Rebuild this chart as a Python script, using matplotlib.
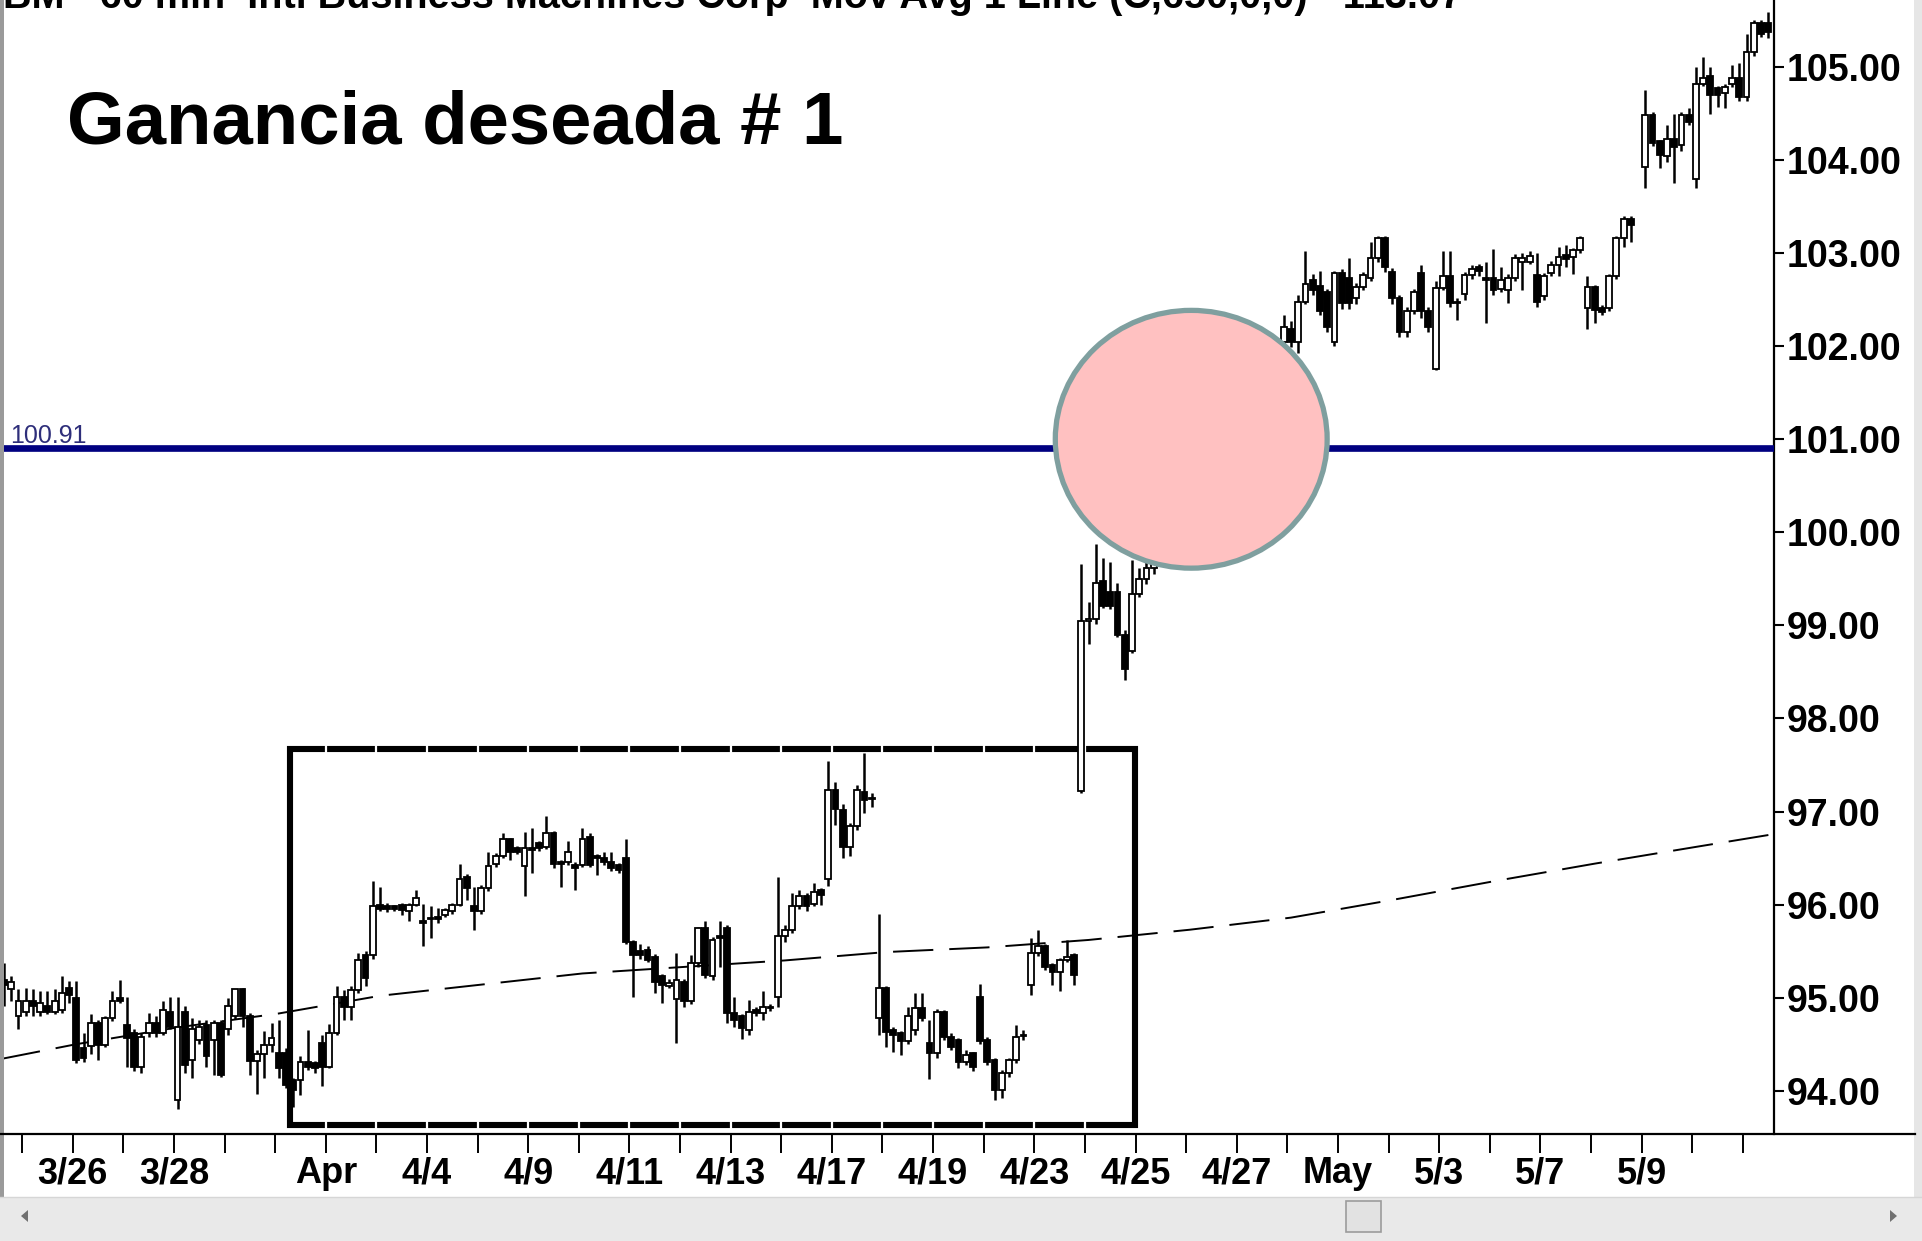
import numpy as np
import matplotlib.pyplot as plt
from matplotlib.patches import Ellipse, Rectangle, Polygon

plt.rcParams['font.family'] = ['Liberation Sans', 'DejaVu Sans']
plt.rcParams['lines.scale_dashes'] = False

# ---------------- data: IBM 60-min bars (one row = one trading day) ----------------
# first two values are the tail of 3/22, then 3/23 ... 5/11 (7 bars per day)
opens = [
    95.19, 95.09,
    94.80, 94.85, 94.96, 94.85, 94.91, 94.85, 94.87,   # 3/23
    95.10, 95.00, 94.46, 94.48, 94.73, 94.49, 94.78,   # 3/26
    95.00, 94.71, 94.62, 94.26, 94.62, 94.73, 94.62,   # 3/27
    94.85, 93.90, 94.85, 94.33, 94.55, 94.71, 94.55,   # 3/28
    94.73, 94.66, 94.80, 95.09, 94.80, 94.32, 94.39,   # 3/29
    94.49, 94.40, 94.40, 94.12, 94.12, 94.31, 94.30,   # 3/30
    94.51, 94.26, 94.62, 95.01, 94.90, 95.08, 95.46,   # 4/2
    95.46, 96.00, 95.98, 95.98, 96.00, 95.93, 96.00,   # 4/3
    95.82, 95.85, 95.87, 95.89, 95.93, 96.00, 96.30,   # 4/4
    95.98, 95.93, 96.18, 96.44, 96.52, 96.70, 96.61,   # 4/5
    96.41, 96.61, 96.66, 96.62, 96.77, 96.46, 96.46,   # 4/9
    96.43, 96.43, 96.73, 96.52, 96.50, 96.46, 96.43,   # 4/10
    96.50, 95.60, 95.50, 95.51, 95.44, 95.23, 95.12,   # 4/11
    94.99, 95.17, 94.96, 95.37, 95.75, 95.23, 95.66,   # 4/12
    95.75, 94.83, 94.80, 94.65, 94.87, 94.83, 94.90,   # 4/13
    95.01, 95.66, 95.73, 95.98, 96.09, 96.01, 96.16,   # 4/16
    96.28, 97.23, 97.02, 96.62, 96.84, 97.21, 97.14,   # 4/17
    94.78, 95.10, 94.65, 94.62, 94.53, 94.65, 94.89,   # 4/18
    94.51, 94.40, 94.85, 94.58, 94.55, 94.31, 94.40,   # 4/19
    95.01, 94.55, 94.33, 94.01, 94.19, 94.33, 94.59,   # 4/20
    95.14, 95.48, 95.55, 95.35, 95.28, 95.41, 95.46,   # 4/23
    97.22, 99.05, 99.07, 99.48, 99.36, 99.36, 98.90,   # 4/24
    98.72, 99.34, 99.50, 99.62, 99.85, 99.78, 100.05,  # 4/25
    100.20, 100.12, 100.35, 100.50, 100.44, 100.70, 100.86,  # 4/26
    101.05, 100.98, 101.25, 101.40, 101.55, 101.48, 101.75,  # 4/27
    102.05, 102.19, 102.05, 102.48, 102.71, 102.65, 102.58,  # 4/30
    102.05, 102.79, 102.73, 102.52, 102.64, 102.73, 102.95,  # 5/1
    103.16, 102.80, 102.52, 102.15, 102.38, 102.79, 102.38,  # 5/2
    101.76, 102.63, 102.75, 102.48, 102.56, 102.77, 102.85,  # 5/3
    102.73, 102.73, 102.62, 102.60, 102.73, 102.91, 102.91,  # 5/4
    102.77, 102.54, 102.79, 102.87, 102.98, 102.96, 103.03,  # 5/7
    102.41, 102.64, 102.41, 102.41, 102.75, 103.16, 103.37,  # 5/8
    np.nan, 103.93, 104.48, 104.20, 104.04, 104.23, 104.16,  # 5/9
    104.48, 103.80, 104.82, 104.90, 104.77, 104.72, 104.82,  # 5/10
    104.88, 104.68, 105.16, 105.47, 105.47,                  # 5/11
]
highs = [
    95.37, 95.23,
    95.09, 95.10, 95.09, 95.07, 95.07, 95.09, 95.23,
    95.18, 95.18, 94.62, 94.82, 94.76, 94.80, 95.07,
    95.19, 95.01, 94.66, 94.62, 94.83, 94.80, 94.96,
    95.01, 95.01, 94.91, 94.78, 94.76, 94.76, 94.76,
    94.76, 95.00, 95.09, 95.10, 94.84, 94.44, 94.64,
    94.73, 94.76, 94.46, 94.14, 94.37, 94.65, 94.32,
    94.60, 94.72, 95.12, 95.08, 95.12, 95.48, 95.50,
    96.25, 96.19, 96.02, 96.00, 96.02, 96.02, 96.16,
    96.01, 95.98, 95.96, 95.96, 96.02, 96.44, 96.33,
    96.19, 96.21, 96.57, 96.55, 96.77, 96.72, 96.63,
    96.78, 96.82, 96.68, 96.95, 96.79, 96.48, 96.68,
    96.46, 96.82, 96.77, 96.54, 96.57, 96.57, 96.45,
    96.71, 95.62, 95.58, 95.55, 95.47, 95.25, 95.20,
    95.48, 95.20, 95.46, 95.76, 95.82, 95.65, 95.82,
    95.78, 95.01, 94.82, 94.98, 94.90, 95.07, 94.93,
    96.30, 95.78, 96.12, 96.16, 96.12, 96.23, 96.18,
    97.54, 97.32, 97.08, 96.88, 97.29, 97.63, 97.20,
    95.90, 95.12, 94.68, 94.64, 94.90, 95.05, 95.05,
    94.76, 94.88, 94.87, 94.62, 94.57, 94.44, 94.42,
    95.15, 94.58, 94.35, 94.22, 94.35, 94.71, 94.65,
    95.64, 95.73, 95.58, 95.37, 95.43, 95.62, 95.48,
    99.66, 99.25, 99.87, 99.72, 99.68, 99.46, 98.95,
    99.70, 99.62, 99.75, 99.95, 100.00, 100.12, 100.30,
    100.28, 100.42, 100.60, 100.58, 100.78, 100.95, 101.12,
    101.15, 101.32, 101.50, 101.62, 101.66, 101.82, 102.00,
    102.34, 102.27, 102.55, 103.02, 102.78, 102.81, 102.62,
    102.81, 102.83, 102.95, 102.68, 102.80, 103.12, 103.18,
    103.18, 102.84, 102.55, 102.42, 102.62, 102.87, 102.42,
    102.70, 103.02, 103.02, 102.52, 102.80, 102.87, 102.88,
    102.91, 103.04, 102.85, 102.78, 102.99, 103.00, 103.02,
    103.00, 102.79, 102.92, 103.07, 103.09, 103.06, 103.18,
    102.75, 102.66, 102.44, 102.78, 103.18, 103.40, 103.40,
    np.nan, 104.75, 104.52, 104.22, 104.38, 104.50, 104.52,
    104.56, 105.00, 105.11, 105.00, 104.80, 104.82, 105.02,
    105.04, 105.36, 105.50, 105.50, 105.59,
]
lows = [
    94.91, 94.96,
    94.66, 94.80, 94.80, 94.80, 94.82, 94.82, 94.83,
    94.94, 94.30, 94.31, 94.39, 94.33, 94.47, 94.75,
    94.94, 94.26, 94.21, 94.19, 94.58, 94.58, 94.60,
    94.66, 93.80, 94.19, 94.14, 94.50, 94.26, 94.17,
    94.15, 94.60, 94.77, 94.69, 94.17, 93.96, 94.14,
    94.42, 94.14, 94.03, 93.83, 93.95, 94.22, 94.19,
    94.05, 94.24, 94.60, 94.76, 94.76, 95.05, 95.12,
    95.42, 95.93, 95.92, 95.93, 95.89, 95.82, 95.98,
    95.55, 95.64, 95.80, 95.87, 95.90, 95.98, 96.05,
    95.73, 95.90, 96.15, 96.40, 96.50, 96.48, 96.54,
    96.09, 96.34, 96.58, 96.60, 96.39, 96.19, 96.43,
    96.16, 96.40, 96.40, 96.32, 96.43, 96.36, 96.34,
    95.58, 95.01, 95.42, 95.38, 95.05, 94.94, 95.10,
    94.51, 94.90, 94.93, 95.33, 95.21, 95.19, 95.33,
    94.73, 94.69, 94.56, 94.60, 94.80, 94.76, 94.86,
    94.90, 95.60, 95.70, 95.95, 95.93, 95.98, 96.00,
    96.20, 96.86, 96.50, 96.52, 96.80, 96.98, 97.05,
    94.60, 94.47, 94.42, 94.38, 94.50, 94.60, 94.75,
    94.13, 94.35, 94.55, 94.44, 94.24, 94.28, 94.21,
    94.50, 94.28, 93.90, 93.92, 94.15, 94.30, 94.55,
    95.03, 95.45, 95.30, 95.14, 95.07, 95.38, 95.14,
    97.20, 98.80, 99.01, 99.19, 99.18, 98.88, 98.41,
    98.70, 99.30, 99.45, 99.55, 99.70, 99.72, 99.98,
    100.05, 100.08, 100.30, 100.38, 100.40, 100.62, 100.80,
    100.90, 100.92, 101.18, 101.35, 101.40, 101.44, 101.70,
    102.00, 101.99, 101.93, 102.45, 102.55, 102.33, 102.15,
    102.00, 102.40, 102.40, 102.45, 102.60, 102.70, 102.90,
    102.80, 102.45, 102.10, 102.10, 102.35, 102.30, 102.15,
    101.74, 102.60, 102.42, 102.28, 102.50, 102.72, 102.75,
    102.25, 102.55, 102.58, 102.46, 102.70, 102.60, 102.88,
    102.42, 102.50, 102.75, 102.75, 102.85, 102.78, 103.00,
    102.19, 102.25, 102.33, 102.38, 102.72, 103.07, 103.12,
    np.nan, 103.70, 104.15, 103.91, 103.98, 103.75, 104.10,
    104.38, 103.70, 104.80, 104.50, 104.57, 104.56, 104.78,
    104.64, 104.64, 105.12, 105.32, 105.31,
]
closes = [
    95.14, 95.17,
    94.96, 94.96, 94.91, 94.94, 94.85, 94.96, 95.05,
    95.03, 94.33, 94.35, 94.73, 94.49, 94.78, 94.96,
    94.96, 94.57, 94.26, 94.58, 94.73, 94.62, 94.87,
    94.69, 94.69, 94.28, 94.66, 94.69, 94.37, 94.73,
    94.17, 94.91, 95.09, 94.80, 94.32, 94.39, 94.49,
    94.57, 94.24, 94.06, 94.01, 94.31, 94.26, 94.24,
    94.26, 94.62, 95.01, 94.90, 95.08, 95.40, 95.21,
    95.99, 95.95, 95.95, 95.95, 95.94, 96.00, 96.07,
    95.80, 95.84, 95.85, 95.94, 96.00, 96.28, 96.18,
    95.93, 96.18, 96.41, 96.52, 96.70, 96.57, 96.57,
    96.61, 96.59, 96.61, 96.77, 96.44, 96.44, 96.57,
    96.39, 96.70, 96.43, 96.50, 96.46, 96.39, 96.37,
    95.60, 95.46, 95.46, 95.41, 95.17, 95.14, 95.16,
    95.19, 94.96, 95.37, 95.75, 95.24, 95.62, 95.64,
    94.83, 94.76, 94.67, 94.85, 94.83, 94.90, 94.89,
    95.66, 95.73, 95.98, 96.09, 95.98, 96.14, 96.10,
    97.23, 97.03, 96.62, 96.84, 97.23, 97.12, 97.13,
    95.10, 94.63, 94.60, 94.53, 94.80, 94.89, 94.78,
    94.40, 94.85, 94.58, 94.47, 94.31, 94.38, 94.26,
    94.53, 94.31, 94.01, 94.19, 94.33, 94.58, 94.60,
    95.48, 95.55, 95.33, 95.28, 95.41, 95.44, 95.24,
    99.05, 99.07, 99.46, 99.21, 99.21, 98.90, 98.53,
    99.34, 99.50, 99.62, 99.85, 99.78, 100.05, 100.20,
    100.12, 100.35, 100.50, 100.44, 100.70, 100.86, 101.05,
    100.98, 101.25, 101.40, 101.55, 101.48, 101.75, 101.95,
    102.21, 102.05, 102.48, 102.67, 102.60, 102.38, 102.21,
    102.79, 102.46, 102.46, 102.64, 102.77, 102.95, 103.16,
    102.85, 102.52, 102.15, 102.38, 102.58, 102.38, 102.21,
    102.63, 102.75, 102.46, 102.46, 102.77, 102.83, 102.81,
    102.71, 102.60, 102.71, 102.73, 102.95, 102.95, 102.97,
    102.48, 102.75, 102.87, 102.96, 102.94, 103.03, 103.16,
    102.64, 102.39, 102.37, 102.75, 103.16, 103.37, 103.30,
    np.nan, 104.48, 104.18, 104.05, 104.23, 104.14, 104.48,
    104.41, 104.82, 104.88, 104.70, 104.70, 104.79, 104.88,
    104.68, 105.16, 105.47, 105.36, 105.38,
]

# moving average (C,650): bar slot -> price
ma_slot = [-3.5, 7, 21, 35, 49, 63, 77, 91, 105, 119, 133, 147, 161, 175, 189, 203, 217, 231, 242]
ma_price = [94.34, 94.50, 94.68, 94.83, 95.02, 95.14, 95.26, 95.33, 95.40, 95.49,
            95.54, 95.62, 95.73, 95.86, 96.05, 96.25, 96.44, 96.62, 96.76]

target_price = 100.91

day_labels = {1: '3/26', 3: '3/28', 6: 'Apr', 8: '4/4', 10: '4/9', 12: '4/11',
              14: '4/13', 16: '4/17', 18: '4/19', 20: '4/23', 22: '4/25',
              24: '4/27', 26: 'May', 28: '5/3', 30: '5/7', 32: '5/9'}
n_days = 35

# consolidation box (bar slots / prices) and highlight circle
box_start, box_end = 36.5, 153.4
box_low, box_high = 93.63, 97.67
circle_slot, circle_price = 161.2, 101.0
circle_w, circle_h = 37.6, 2.77

title = 'Ganancia deseada # 1'
header = 'IBM - 60 min  Intl Business Machines Corp  Mov Avg 1 Line (C,650,0,0) - 113.07'

# ---------------- figure ----------------
W, H = 1922, 1241
fig = plt.figure(figsize=(W / 100, H / 100), dpi=100)
ax = fig.add_axes([4 / W, (H - 1134) / H, 1770 / W, 1134 / H])

o = np.array(opens, float)
h = np.array(highs, float)
l = np.array(lows, float)
c = np.array(closes, float)
x = np.arange(len(o)) - 3
ok = ~np.isnan(o)
up = c >= o

ax.vlines(x[ok], l[ok], h[ok], color='black', lw=1.8, zorder=3)
body_h = np.maximum(np.abs(c - o), 0.012)
ax.bar(x[ok], body_h[ok], bottom=np.minimum(o, c)[ok], width=0.8,
       color=np.where(up, 'white', 'black')[ok], edgecolor='black', lw=1.3, zorder=4)

# moving average
ax.plot(ma_slot, ma_price, color='black', lw=1.4, dashes=(29, 11.5), zorder=2)

# box
ax.add_patch(Rectangle((box_start, box_low), box_end - box_start, box_high - box_low,
                       fill=False, edgecolor='black', lw=4.4, zorder=1.5))
ticks = [7 * k - 0.5 for k in range(n_days)]
for t in ticks:
    if box_start < t < box_end:
        for yy in (box_low, box_high):
            ax.vlines(t, yy - 0.05, yy + 0.05, color='white', lw=1.6, zorder=1.6)

# target line
ax.axhline(target_price, color='#000080', lw=4.8, zorder=5)
ax.text(0.0035, 100.96, f'{target_price:.2f}', transform=ax.get_yaxis_transform(),
        fontsize=18, color='#2E2E7A', va='baseline', ha='left', zorder=5)

ax.add_patch(Ellipse((circle_slot, circle_price), circle_w, circle_h,
                     facecolor='#FFC1C1', edgecolor='#7F9F9F', lw=3.8, zorder=6))

ax.set_xlim(-3.0, 241.8)
ax.set_ylim(93.535, 105.72)
for s in ('top', 'left', 'bottom'):
    ax.spines[s].set_visible(False)
ax.spines['right'].set_linewidth(1.6)

ax.yaxis.tick_right()
yt = np.arange(94, 106)
ax.set_yticks(yt)
ax.set_yticklabels([f'{v:.2f}' for v in yt], fontsize=27, fontweight='bold')
ax.tick_params(axis='y', direction='out', length=7, width=1.5, pad=2)

ax.set_xticks(ticks)
ax.set_xticklabels([day_labels.get(k, '') for k in range(n_days)], fontsize=26, fontweight='bold')
ax.tick_params(axis='x', direction='out', length=14, width=1.4, pad=2)

# ---------------- window chrome ----------------
ov = fig.add_axes([0, 0, 1, 1], zorder=10)
ov.set_xlim(0, W)
ov.set_ylim(H, 0)
ov.axis('off')
ov.patch.set_alpha(0)
ov.plot([0, 1915], [1134, 1134], color='black', lw=1.6)
ov.add_patch(Rectangle((0, 0), 3.5, 1197, color='#9A9A9A', lw=0))
ov.add_patch(Rectangle((1914, 0), 8, H, color='#E6E6E6', lw=0))
ov.add_patch(Rectangle((0, 1197), W, H - 1197, color='#E9E9E9', lw=0))
ov.plot([0, W], [1197, 1197], color='#D6D6D6', lw=1)
ov.add_patch(Rectangle((1346, 1201), 35, 31, facecolor='#E2E2E2', edgecolor='#9C9C9C', lw=1.2))
ov.add_patch(Polygon([[21, 1216], [28, 1210], [28, 1222]], color='#707070', lw=0))
ov.add_patch(Polygon([[1897, 1216], [1890, 1210], [1890, 1222]], color='#707070', lw=0))

fig.text(-8 / W, 1 - 8 / H, header, fontsize=28.5, fontweight='bold', va='baseline', ha='left')
fig.text(67 / W, 1 - 143 / H, title, fontsize=53.6, fontweight='bold', va='baseline', ha='left')

fig.savefig('out.png', dpi=100)
